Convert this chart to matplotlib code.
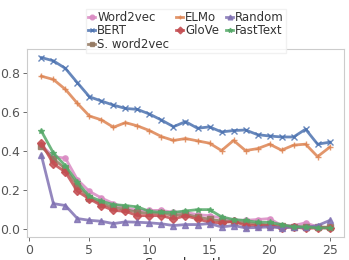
import matplotlib
matplotlib.use("Agg")
import matplotlib.pyplot as plt

span = list(range(1, 26))

word2vec = [0.43, 0.372, 0.364, 0.253, 0.193, 0.159, 0.130, 0.108, 0.095, 0.095, 0.095, 0.085, 0.085,
            0.073, 0.068, 0.056, 0.044, 0.044, 0.048, 0.053, 0.017, 0.017, 0.031, 0.010, 0.002]
bert = [0.882, 0.865, 0.826, 0.752, 0.680, 0.658, 0.637, 0.620, 0.615, 0.591, 0.560, 0.526, 0.552,
        0.518, 0.525, 0.499, 0.506, 0.509, 0.485, 0.478, 0.473, 0.473, 0.513, 0.436, 0.446]
s_word2vec = [0.424, 0.36, 0.31, 0.22, 0.16, 0.13, 0.11, 0.10, 0.085, 0.08, 0.08, 0.07, 0.075,
              0.06, 0.05, 0.04, 0.035, 0.03, 0.025, 0.02, 0.015, 0.012, 0.01, 0.01, 0.008]
elmo = [0.786, 0.769, 0.718, 0.646, 0.581, 0.561, 0.523, 0.547, 0.530, 0.506, 0.475, 0.455, 0.465,
        0.453, 0.441, 0.403, 0.455, 0.403, 0.413, 0.436, 0.405, 0.431, 0.436, 0.372, 0.420]
glove = [0.441, 0.335, 0.292, 0.193, 0.154, 0.120, 0.095, 0.090, 0.068, 0.068, 0.068, 0.051, 0.067,
         0.051, 0.034, 0.031, 0.039, 0.017, 0.017, 0.017, 0.005, 0.010, 0.002, 0.005, 0.005]
random_emb = [0.378, 0.13, 0.12, 0.053, 0.044, 0.039, 0.027, 0.036, 0.034, 0.031, 0.026, 0.017, 0.022,
              0.022, 0.027, 0.010, 0.017, 0.005, 0.007, 0.010, 0.005, 0.010, 0.007, 0.017, 0.043]
fasttext = [0.503, 0.39, 0.325, 0.239, 0.167, 0.142, 0.125, 0.120, 0.113, 0.090, 0.085, 0.085, 0.092,
            0.099, 0.099, 0.062, 0.048, 0.043, 0.034, 0.034, 0.022, 0.010, 0.010, 0.005, 0.005]

series = [
    ("Word2vec", word2vec, "#DA8BC3", "o"),
    ("BERT", bert, "#4C72B0", "x"),
    ("S. word2vec", s_word2vec, "#937860", "s"),
    ("ELMo", elmo, "#DD8452", "+"),
    ("GloVe", glove, "#C44E52", "D"),
    ("Random", random_emb, "#8172B3", "^"),
    ("FastText", fasttext, "#55A868", "*"),
]

fig = plt.figure(figsize=(3.49, 2.6), dpi=100)
ax = fig.add_axes([27 / 349, 23 / 260, 317 / 349, 188 / 260])

for name, vals, col, mk in series:
    ax.plot(span, vals, color=col, marker=mk, markersize=3.8, linewidth=2,
            alpha=0.85, label=name)

ax.set_xticks([0, 5, 10, 15, 20, 25])
ax.set_yticks([0.0, 0.2, 0.4, 0.6, 0.8])
ax.tick_params(labelsize=9, colors="#555555", length=3, width=0.6, pad=2)
for s in ax.spines.values():
    s.set_color("#cccccc")
ax.set_xlabel("Span length", fontsize=9.5, color="#333333", labelpad=0)
ax.set_ylabel("F1-score", fontsize=9.5, color="#333333", labelpad=1)

leg = ax.legend(loc="upper center", bbox_to_anchor=(0.533, 0.99),
                bbox_transform=fig.transFigure, ncol=3, fontsize=8.5,
                labelspacing=0.05, handletextpad=0.15, columnspacing=0.6,
                handlelength=0.6, borderpad=0.2, markerscale=0.9,
                frameon=True, fancybox=False)
leg.get_frame().set_edgecolor("#eeeeee")
for t in leg.get_texts():
    t.set_color("#333333")

fig.savefig("out.png", dpi=100)
